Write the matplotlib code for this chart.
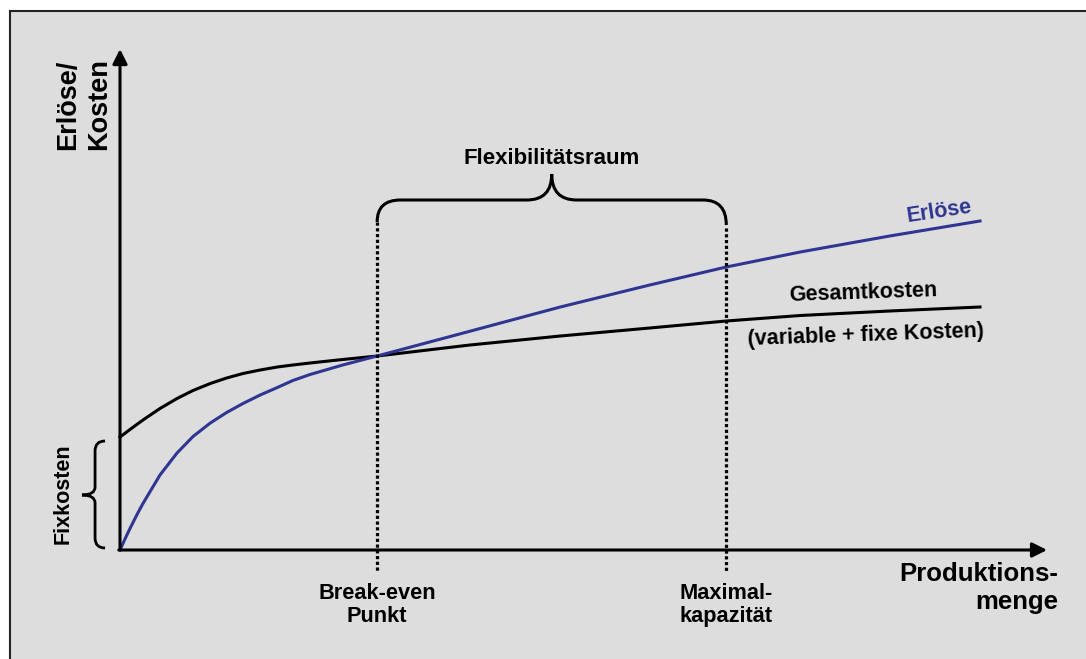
import matplotlib.pyplot as plt
from matplotlib.path import Path
from matplotlib.patches import PathPatch, Rectangle

plt.rcParams['font.family'] = ['Liberation Sans', 'DejaVu Sans']
plt.rcParams['font.weight'] = 'bold'

# Kurven (Produktionsmenge 0..100, Erlöse/Kosten 0..100)
menge_kosten = [0, 1.16, 2.67, 4.65, 6.63, 8.49, 10.5, 12.4, 14.3, 16.3, 18.3,
                20.1, 22.1, 25.9, 29.9, 40.7, 51.2, 61.6, 70.5, 79.1, 89.5, 100]
gesamtkosten = [22.6, 24.1, 26.0, 28.3, 30.3, 31.9, 33.3, 34.4, 35.3, 36.0, 36.6,
                37.0, 37.4, 38.1, 38.8, 41.0, 42.8, 44.4, 45.8, 46.9, 47.8, 48.6]

menge_erloese = [0, 0.58, 1.16, 1.98, 2.67, 4.65, 6.63, 8.49, 10.5, 12.4, 14.3,
                 16.3, 18.3, 20.1, 22.1, 25.9, 29.9, 38.4, 51.2, 61.6, 70.5,
                 79.1, 89.5, 100]
erloese = [0, 2.2, 4.3, 7.1, 9.3, 15.0, 19.4, 22.7, 25.4, 27.5, 29.3,
           31.0, 32.5, 33.9, 35.1, 37.0, 38.8, 42.7, 48.6, 53.0, 56.6,
           59.6, 62.8, 65.8]

break_even = 29.9
max_kapazitaet = 70.5

blau = '#2e3592'

fig = plt.figure(figsize=(10.86, 6.59), dpi=100, facecolor='white')

ax = fig.add_axes([0, 0, 1, 1])
ax.set_facecolor('none')
# Pixel -> Daten: x = 120 + 8.6*x, y = 550 - 5*y
ax.set_xlim(-120 / 8.6, (1086 - 120) / 8.6)
ax.set_ylim((550 - 659) / 5, 550 / 5)
ax.axis('off')

# grauer Hintergrund mit Rahmen links/oben
ax.add_patch(Rectangle((10 / 1086, -0.1), 1.2, 1 - 11 / 659 + 0.1,
                       transform=fig.transFigure, facecolor='#dddddd',
                       edgecolor='#222222', lw=1.5, zorder=-5, clip_on=False))

# Achsen mit Pfeilen
pfeil = dict(arrowstyle='-|>', lw=2.2, color='black', mutation_scale=22,
             shrinkA=0, shrinkB=0)
ax.annotate('', xy=(0, 100.2), xytext=(0, 0), arrowprops=pfeil)
ax.annotate('', xy=(107.8, 0), xytext=(-0.15, 0), arrowprops=pfeil)

# Kurven
ax.plot(menge_kosten, gesamtkosten, color='black', lw=2.2, solid_joinstyle='round')
ax.plot(menge_erloese, erloese, color=blau, lw=2.2, solid_joinstyle='round')

# gepunktete Linien
ax.plot([break_even, break_even], [65.6, -4.4], color='black', lw=2.3,
        linestyle=(0, (1, 0.8)))
ax.plot([max_kapazitaet, max_kapazitaet], [64.4, -4.4], color='black', lw=2.3,
        linestyle=(0, (1, 0.8)))

# geschweifte Klammer oben
xm = (break_even + max_kapazitaet) / 2
verts = [(break_even, 65.6), (break_even, 70), (break_even + 2.7, 70),
         (xm - 2.9, 70), (xm, 70), (xm, 75.2),
         (xm, 70), (xm + 2.9, 70),
         (max_kapazitaet - 2.7, 70), (max_kapazitaet, 70), (max_kapazitaet, 65)]
codes = [Path.MOVETO, Path.CURVE3, Path.CURVE3,
         Path.LINETO, Path.CURVE3, Path.CURVE3,
         Path.CURVE3, Path.CURVE3,
         Path.LINETO, Path.CURVE3, Path.CURVE3]
ax.add_patch(PathPatch(Path(verts, codes), fill=False, lw=2.2, edgecolor='black'))

# Klammer Fixkosten
verts = [(-1.74, 21.8), (-2.9, 21.8), (-2.9, 19.8),
         (-2.9, 12.6), (-2.9, 11), (-4.42, 11),
         (-2.9, 11), (-2.9, 9.4),
         (-2.9, 2.4), (-2.9, 0.4), (-1.74, 0.4)]
ax.add_patch(PathPatch(Path(verts, codes), fill=False, lw=2.0, edgecolor='black'))

# Beschriftungen
ax.text(xm, 78.4, 'Flexibilitätsraum', ha='center', va='center', fontsize=16)
ax.text(95.3, 67.6, 'Erlöse', ha='center', va='center', fontsize=15.5,
        color=blau, rotation=8.5, rotation_mode='anchor')
ax.text(86.4, 51.4, 'Gesamtkosten', ha='center', va='center', fontsize=15.5,
        rotation=1.9, rotation_mode='anchor')
ax.text(86.7, 43.0, '(variable + fixe Kosten)', ha='center', va='center',
        fontsize=15.5, rotation=2.0, rotation_mode='anchor')
ax.text(break_even, -11, 'Break-even\nPunkt', ha='center', va='center',
        fontsize=15.7, linespacing=1.15)
ax.text(max_kapazitaet, -11, 'Maximal-\nkapazität', ha='center', va='center',
        fontsize=15.7, linespacing=1.15, multialignment='left')
ax.text(109.1, -7.6, 'Produktions-\nmenge', ha='right', va='center',
        fontsize=18.5, linespacing=1.25, multialignment='right')
ax.text(-6.05, 80, 'Erlöse/', ha='left', va='center', fontsize=19.5,
        rotation=90, rotation_mode='anchor')
ax.text(-2.44, 80, 'Kosten', ha='left', va='center', fontsize=19.5,
        rotation=90, rotation_mode='anchor')
ax.text(-6.6, 11.2, 'Fixkosten', ha='center', va='center', fontsize=15.5,
        rotation=90, rotation_mode='anchor')

fig.savefig('out.png', dpi=100, facecolor=fig.get_facecolor())
